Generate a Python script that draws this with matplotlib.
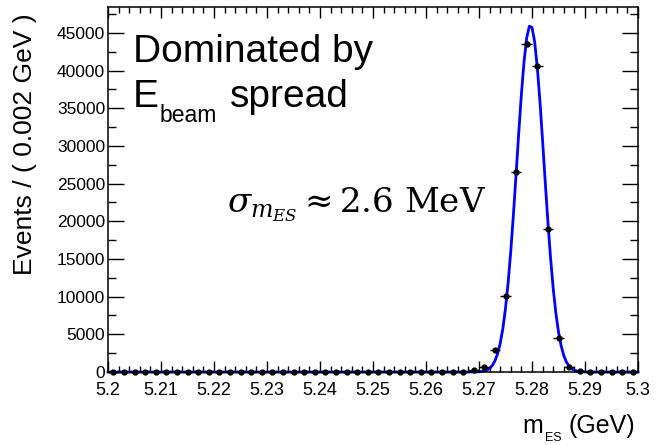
import numpy as np
import matplotlib
matplotlib.use("Agg")
import matplotlib.pyplot as plt
from matplotlib.ticker import FixedLocator, MultipleLocator

# mES histogram: 50 bins of 0.002 GeV between 5.2 and 5.3 GeV
bin_lo = 5.2
bin_hi = 5.3
counts = [0, 0, 0, 0, 0, 0, 0, 0, 0, 0,
          0, 0, 0, 0, 0, 0, 0, 0, 0, 0,
          0, 0, 0, 0, 0, 0, 0, 0, 0, 0,
          0, 0, 0, 0, 250, 600, 2920, 10150, 26600, 43500,
          40600, 19000, 4510, 660, 100, 0, 0, 0, 0, 0]

# fitted curve (blue)
fit_x = [5.2, 5.2680, 5.2685, 5.2690, 5.2695, 5.2700, 5.2705, 5.2710, 5.2715,
         5.2720, 5.2725, 5.2730, 5.2735, 5.2740, 5.2745, 5.2750, 5.2755,
         5.2760, 5.2765, 5.2770, 5.2775, 5.2780, 5.2785, 5.2790, 5.2795,
         5.2800, 5.2805, 5.2810, 5.2815, 5.2820, 5.2825, 5.2830, 5.2835,
         5.2840, 5.2845, 5.2850, 5.2855, 5.2860, 5.2865, 5.2870, 5.2875,
         5.2880, 5.2885, 5.2890, 5.2895, 5.2900, 5.2905, 5.2910, 5.3]
fit_y = [0, 1, 3, 7, 15, 33, 68, 137, 262,
         482, 855, 1461, 2399, 3787, 5757, 8434, 11870,
         16070, 20950, 26290, 31740, 36870, 41220, 44350, 45910,
         45730, 43840, 40440, 35900, 30660, 25200, 19930, 15170,
         11110, 7840, 5314, 3464, 2177, 1315, 765, 428,
         231, 120, 59, 29, 13, 6, 2, 0]

x_ticks = [5.2, 5.21, 5.22, 5.23, 5.24, 5.25, 5.26, 5.27, 5.28, 5.29, 5.3]
x_tick_labels = ["5.2", "5.21", "5.22", "5.23", "5.24", "5.25", "5.26",
                 "5.27", "5.28", "5.29", "5.3"]
y_ticks = [0, 5000, 10000, 15000, 20000, 25000, 30000, 35000, 40000, 45000]
y_max = 48450

W, H = 656, 445


def px(x, y):
    # pixel position (from top-left) -> figure fraction
    return x / W, 1 - y / H


plt.rcParams["font.family"] = ["Liberation Sans", "DejaVu Sans"]
plt.rcParams["mathtext.fontset"] = "custom"
plt.rcParams["mathtext.rm"] = "Liberation Sans"
plt.rcParams["mathtext.it"] = "Liberation Sans:italic"

fig = plt.figure(figsize=(W / 100, H / 100), dpi=100)
ax = fig.add_axes([108 / W, 1 - 372 / H, 530 / W, 365 / H])

n_bins = len(counts)
width = (bin_hi - bin_lo) / n_bins
centers = bin_lo + width * (np.arange(n_bins) + 0.5)
counts = np.array(counts, dtype=float)

ax.plot(fit_x, fit_y, color="#0000ff", lw=2.0, zorder=2, clip_on=False)
ax.errorbar(centers, counts, xerr=width / 2, yerr=np.sqrt(counts), fmt="o",
            color="black", ms=3.5, elinewidth=1.0, capsize=0, zorder=3,
            clip_on=False)

ax.set_xlim(bin_lo, bin_hi)
ax.set_ylim(0, y_max)
ax.xaxis.set_major_locator(FixedLocator(x_ticks))
ax.set_xticklabels(x_tick_labels)
ax.xaxis.set_minor_locator(MultipleLocator(0.002))
ax.yaxis.set_major_locator(FixedLocator(y_ticks))
ax.yaxis.set_minor_locator(MultipleLocator(2500))

for s in ax.spines.values():
    s.set_linewidth(1.1)
ax.tick_params(which="both", direction="in", top=True, right=True, width=1.0)
ax.tick_params(axis="x", which="major", length=8, pad=7, labelsize=13)
ax.tick_params(axis="x", which="minor", length=4)
ax.tick_params(axis="y", which="major", length=11.5, pad=2, labelsize=12.5)
ax.tick_params(axis="y", which="minor", length=6)

# axis titles (ROOT style)
fig.text(*px(25, 13), "Events / ( 0.002 GeV )", rotation=90, ha="center",
         va="top", fontsize=19)
fig.text(*px(522, 433), "m", fontsize=18, va="baseline")
fig.text(*px(545, 441), "ES", fontsize=9, va="baseline")
fig.text(*px(569, 433), "(GeV)", fontsize=18, va="baseline")

# annotations
fig.text(*px(133, 62), "Dominated by", fontsize=28, va="baseline")
fig.text(*px(133, 107), "E", fontsize=28, va="baseline")
fig.text(*px(160, 122), "beam", fontsize=16.5, va="baseline")
fig.text(*px(230, 107), "spread", fontsize=28, va="baseline")
fig.text(*px(227, 213), r"$\sigma_{m_{ES}}\approx 2.6\ \mathrm{MeV}$",
         fontsize=24.5, va="baseline", math_fontfamily="dejavuserif")

fig.savefig("out.png", dpi=100)
